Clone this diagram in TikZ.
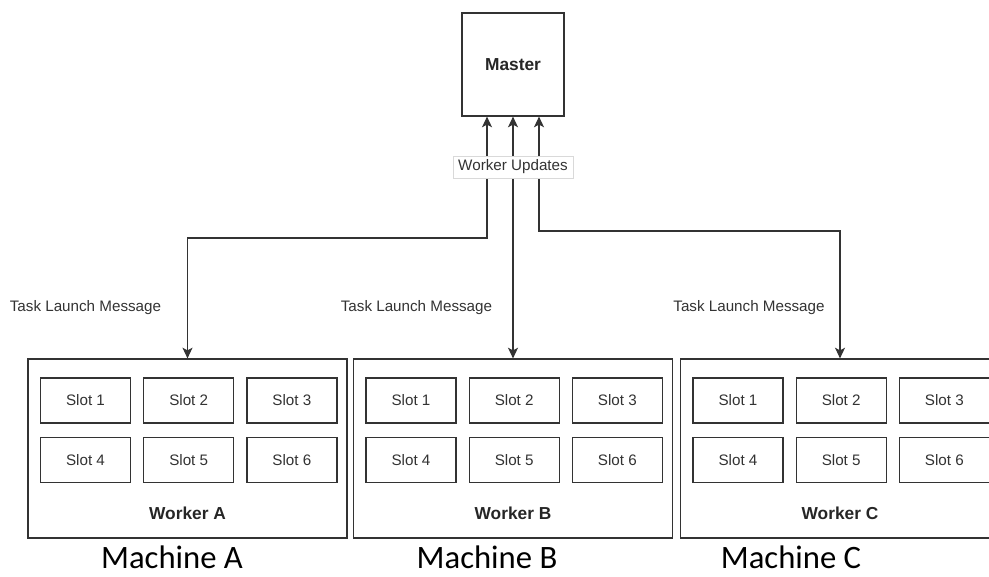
\documentclass[tikz,border=0pt]{standalone}
\usepackage{fontspec}
\setmainfont{Liberation Sans}
\newfontfamily\machfont{Carlito}
\usetikzlibrary{positioning,arrows.meta}

\tikzset{
  box/.style={draw=black!80, line width=0.9pt, fill=white},
  slotbox/.style={box, minimum width=67.5pt, minimum height=33.75pt, inner sep=0pt},
  workerbox/.style={box, minimum width=239.25pt, minimum height=134.25pt},
  small/.style={font=\fontsize{11.4}{13}\selectfont, text=black!80},
  heavy/.style={font=\fontsize{13}{15}\selectfont\bfseries, text=black!85},
  msg/.style={{Stealth[length=8pt,width=7.5pt,inset=2pt]}-{Stealth[length=8pt,width=7.5pt,inset=2pt]}, line width=0.9pt, draw=black!80}
}

\begin{document}
\begin{tikzpicture}[x=0.75pt, y=-0.75pt]
    \useasboundingbox (0,0) rectangle (989,577);
    \clip (0,0) rectangle (989,577);

    % Master
    \node[box, minimum width=76.5pt, minimum height=77.25pt, heavy] (master) at (513,64.5) {Master};

    % Workers with their slots
    \foreach \w/\x in {A/187.5, B/513, C/840} {
        \node[workerbox] (w\w) at (\x,448.5) {};
        \node[heavy] (lab\w) at (\x,513) {Worker \w};
        \node[slotbox, small] (s\w1) at (\x-102,400.5) {Slot 1};
        \node[slotbox, small, right=9pt of s\w1] (s\w2) {Slot 2};
        \node[slotbox, small, right=9pt of s\w2] (s\w3) {Slot 3};
        \node[slotbox, small, below=9.75pt of s\w1] (s\w4) {Slot 4};
        \node[slotbox, small, right=9pt of s\w4] (s\w5) {Slot 5};
        \node[slotbox, small, right=9pt of s\w5] (s\w6) {Slot 6};
    }

    % Machine names
    \node[font=\machfont\fontsize{24.5}{28}\selectfont] (mA) at (172,557) {Machine A};
    \node[font=\machfont\fontsize{24.5}{28}\selectfont] (mB) at (487,557) {Machine B};
    \node[font=\machfont\fontsize{24.5}{28}\selectfont] (mC) at (791,557) {Machine C};

    % Task launch messages
    \node[small] (tA) at (85.5,308) {Task Launch Message};
    \node[small] (tB) at (416.5,308) {Task Launch Message};
    \node[small] (tC) at (749,308) {Task Launch Message};

    % Links master <-> workers
    \coordinate (bendA) at (187.5,238);
    \coordinate (bendC) at (840,231);
    \draw[msg] ([xshift=-19.5pt]master.south) |- (bendA) -- (wA.north);
    \draw[msg] (master.south) -- (wB.north);
    \draw[msg] ([xshift=19.5pt]master.south) |- (bendC) -- (wC.north);

    \node[small, fill=white, draw=black!15, line width=0.6pt, inner xsep=4pt, inner ysep=3pt] (upd) at (513,167) {Worker Updates};
\end{tikzpicture}
\end{document}
